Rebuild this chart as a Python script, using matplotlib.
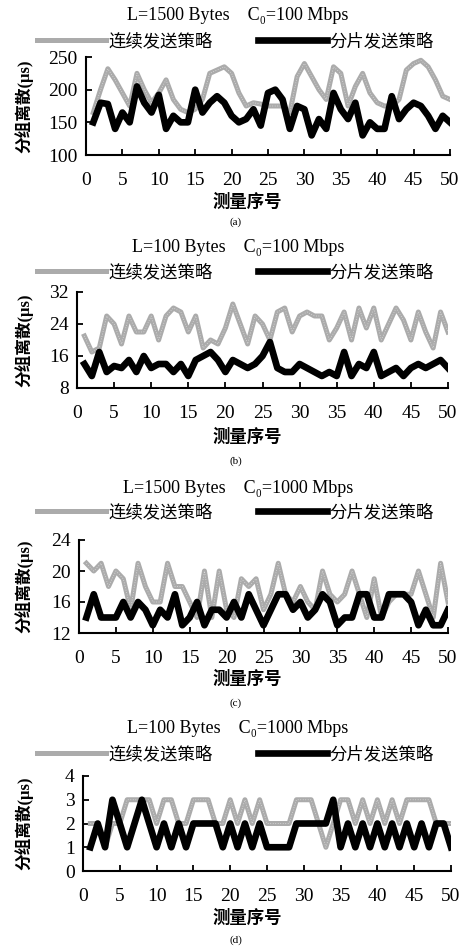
import numpy as np
import matplotlib
matplotlib.use('Agg')
import matplotlib.pyplot as plt

plt.rcParams['font.family'] = ['Liberation Serif', 'Noto Sans CJK SC', 'DejaVu Sans']

x = np.arange(1, 51)

# (a) L=1500 Bytes, C0=100 Mbps
cont_a = [165, 200, 232, 215, 195, 175, 225, 200, 180, 195,
          215, 185, 170, 165, 170, 185, 225, 230, 235, 225,
          195, 175, 180, 178, 175, 175, 175, 165, 220, 240,
          220, 200, 185, 235, 225, 175, 205, 225, 195, 180,
          175, 175, 185, 230, 240, 245, 235, 215, 190, 185]
frag_a = [150, 180, 178, 140, 165, 150, 205, 180, 165, 192,
          140, 160, 150, 150, 200, 165, 180, 190, 180, 160,
          150, 155, 170, 145, 195, 200, 185, 140, 175, 170,
          130, 155, 140, 195, 170, 155, 180, 130, 150, 140,
          140, 190, 155, 170, 180, 175, 160, 140, 160, 150]

# (b) L=100 Bytes, C0=100 Mbps
cont_b = [21, 17, 18, 26, 24, 19, 26, 22, 22, 26,
          20, 26, 28, 27, 22, 26, 18, 20, 19, 23,
          29, 24, 19, 26, 24, 20, 27, 28, 22, 26,
          27, 26, 26, 20, 23, 27, 20, 28, 23, 28,
          20, 24, 28, 25, 20, 27, 22, 18, 27, 22]
frag_b = [14, 11, 17, 12, 13.5, 13, 15, 12, 16, 13,
          14, 14, 12, 14, 11, 15, 16, 17, 15, 12,
          15, 14, 13, 14, 16, 19.5, 13, 12, 12, 14,
          13, 12, 11, 12, 11, 17, 11, 14, 13, 17,
          11, 12, 13, 11, 13, 14, 13, 14, 15, 13]

# (c) L=1500 Bytes, C0=1000 Mbps
cont_c = [21, 20, 21, 18, 20, 19, 15, 21, 18, 16,
          16, 21, 18, 18, 16, 14, 20, 14, 20, 15,
          14, 19, 18, 19, 15, 17, 21, 17, 16, 18,
          16, 15, 20, 17, 16, 17, 20, 17, 14, 19,
          14, 16, 17, 17, 17, 20, 17, 14, 21, 16]
frag_c = [14, 17, 14, 14, 14, 16, 14, 16, 15, 13,
          15, 14, 17, 13, 14, 16, 13, 15, 15, 14,
          16, 14, 17, 15, 13, 15, 17, 17, 15, 16,
          14, 15, 17, 16, 13, 14, 14, 17, 17, 14,
          14, 17, 17, 17, 16, 13, 15, 13, 13, 15]

# (d) L=100 Bytes, C0=1000 Mbps
cont_d = [2, 2, 1, 2, 2, 3, 3, 3, 3, 2,
          3, 3, 2, 2, 3, 3, 3, 2, 2, 3,
          2, 3, 2, 3, 2, 2, 2, 2, 3, 3,
          3, 2, 1, 2, 3, 3, 2, 3, 2, 3,
          2, 3, 2, 3, 3, 3, 3, 2, 2, 2]
frag_d = [1, 2, 1, 3, 2, 1, 2, 3, 2, 1,
          2, 1, 2, 1, 2, 2, 2, 2, 1, 2,
          1, 2, 1, 2, 1, 1, 1, 1, 2, 2,
          2, 2, 2, 3, 1, 2, 1, 2, 1, 2,
          1, 2, 1, 2, 1, 2, 1, 2, 2, 1]

titles = ['L=1500 Bytes    C\u2080=100 Mbps', 'L=100 Bytes    C\u2080=100 Mbps',
          'L=1500 Bytes    C\u2080=1000 Mbps', 'L=100 Bytes    C\u2080=1000 Mbps']
yticks = [[100, 150, 200, 250], [8, 16, 24, 32], [12, 16, 20, 24], [0, 1, 2, 3, 4]]
tags = ['(a)', '(b)', '(c)', '(d)']
xticks = list(range(0, 51, 5))
series = [(cont_a, frag_a), (cont_b, frag_b), (cont_c, frag_c), (cont_d, frag_d)]

W, H = 466, 947
fig = plt.figure(figsize=(W / 100, H / 100), dpi=100)

# pixel layout: (left, right, top, bottom) of axes, then y of title, legend, xlabel, tag
boxes = [(86, 450, 57, 155), (77, 448, 292, 388), (79, 448, 540, 633), (83, 451, 776, 871)]
text_y = [(15, 42, 202, 222), (248, 273, 437, 461), (488, 513, 679, 703), (728, 755, 918, 940)]

for i in range(4):
    l, r, t, b = boxes[i]
    ax = fig.add_axes([l / W, 1 - b / H, (r - l) / W, (b - t) / H])
    cont, frag = series[i]
    ax.plot(x, cont, color='#ababab', lw=3.6, solid_joinstyle='round', label='连续发送策略')
    ax.plot(x, cont, color='white', lw=0.6, ls=(0, (1, 2)), alpha=0.6)
    ax.plot(x, frag, color='black', lw=4.8, solid_joinstyle='round', label='分片发送策略')
    ax.set_xlim(0, 50)
    ax.set_ylim(yticks[i][0], yticks[i][-1])
    ax.set_xticks(xticks)
    ax.set_yticks(yticks[i])
    for s in ['top', 'right']:
        ax.spines[s].set_visible(False)
    for s in ['left', 'bottom']:
        ax.spines[s].set_linewidth(1.5)
    ax.tick_params(axis='x', direction='in', length=4, width=1.3, pad=12, labelsize=14)
    ax.tick_params(axis='y', direction='in', length=4, width=1.3, pad=6, labelsize=14)

    ty, ly, xy, gy = text_y[i]
    fig.text(238 / W, 1 - ty / H, titles[i], ha='center', va='center', fontsize=13)
    handles, labels = ax.get_legend_handles_labels()
    ax.legend(handles, labels, loc='center', bbox_to_anchor=(235 / W, 1 - ly / H),
              bbox_transform=fig.transFigure, ncol=2, frameon=False, fontsize=12.5,
              handlelength=4.0, handletextpad=0.1, columnspacing=2.6, borderpad=0)
    fig.text(247 / W, 1 - xy / H, '测量序号', ha='center', va='center', fontsize=12.5,
             fontweight='bold')
    fig.text(236 / W, 1 - gy / H, tags[i], ha='center', va='center', fontsize=8)
    fig.text(24 / W, 1 - (t + b) / 2 / H, '分组离散(μs)', ha='center', va='center',
             rotation=90, fontsize=12, fontweight='bold')

fig.savefig('out.png', dpi=100)
